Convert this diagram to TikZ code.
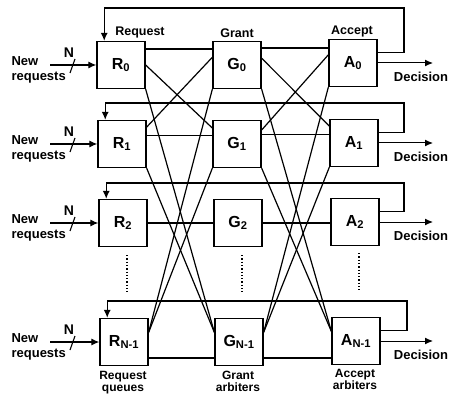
\documentclass[tikz,border=0pt]{standalone}
\usepackage{fontspec}
\setmainfont{Liberation Sans}
\usetikzlibrary{calc,arrows.meta}
\begin{document}
\begin{tikzpicture}[x=1pt,y=-1pt,line width=1.2pt,
  box/.style={draw,line width=1.3pt,minimum width=48pt,minimum height=47pt,inner sep=0pt,
    font=\bfseries\fontsize{16}{16}\selectfont},
  lbl/.style={font=\bfseries\fontsize{12.5}{14}\selectfont,inner sep=0pt},
  botlbl/.style={font=\bfseries\fontsize{12}{11.5}\selectfont,inner sep=0pt,align=center,anchor=north},
  inlbl/.style={font=\bfseries\fontsize{13}{14.5}\selectfont,inner sep=0pt,align=left,anchor=west},
  arr/.style={-{Latex[length=8pt,width=7pt]}},
  thinarr/.style={line width=1pt,-{Latex[length=8pt,width=7pt]}},
  dotline/.style={dotted,line width=1.3pt}]
\useasboundingbox (0,0) rectangle (457,395);
% boxes
\node[box] (R0) at (121,65) {R\textsubscript{0}};
\node[box] (R1) at (122,144) {R\textsubscript{1}};
\node[box] (R2) at (123,223) {R\textsubscript{2}};
\node[box] (RN) at (124,342) {R\textsubscript{N-1}};
\node[box] (G0) at (237,65) {G\textsubscript{0}};
\node[box] (G1) at (237,144) {G\textsubscript{1}};
\node[box] (G2) at (238,223) {G\textsubscript{2}};
\node[box] (GN) at (239,342) {G\textsubscript{N-1}};
\node[box] (A0) at (353,63) {A\textsubscript{0}};
\node[box] (A1) at (354,143) {A\textsubscript{1}};
\node[box] (A2) at (355,222) {A\textsubscript{2}};
\node[box] (AN) at (356,341) {A\textsubscript{N-1}};
% column labels
\node[lbl] (tR) at (140,33) {Request};
\node[lbl] (tG) at (237,33) {Grant};
\node[lbl] (tA) at (352,32) {Accept};
\node[botlbl] (bR) at (123,371) {Request\\queues};
\node[botlbl] (bG) at (238,371) {Grant\\arbiters};
\node[botlbl] (bA) at (355,369) {Accept\\arbiters};
% straight lines
\foreach \r/\f in {0/0.17,1/0.32,2/0.5,N/0.83}{
  \coordinate (rg\r) at ($(R\r.north east)!\f!(R\r.south east)$);
  \draw (rg\r) -- (rg\r -| G\r.west);
}
\foreach \r/\f in {0/0.15,1/0.3,2/0.5,N/0.83}{
  \coordinate (ga\r) at ($(G\r.north east)!\f!(G\r.south east)$);
  \draw (ga\r) -- (ga\r -| A\r.west);
}
% crossing lines R-G
\coordinate (gnw) at ($(GN.north west)!0.3!(GN.south west)$);
\coordinate (rne) at ($(RN.north east)!0.3!(RN.south east)$);
\draw (R0.east) -- ($(G1.north west)!0.17!(G1.south west)$);
\draw ($(G0.north west)!0.34!(G0.south west)$) -- ($(R1.north east)!0.15!(R1.south east)$);
\draw (R0.south east) -- (gnw);
\draw (R1.south east) -- (gnw);
\draw (G0.south west) -- (rne);
\draw (G1.south west) -- (rne);
% crossing lines G-A
\coordinate (anw) at ($(AN.north west)!0.3!(AN.south west)$);
\coordinate (gne) at ($(GN.north east)!0.3!(GN.south east)$);
\draw ($(G0.north east)!0.36!(G0.south east)$) -- ($(A1.north west)!0.15!(A1.south west)$);
\draw ($(A0.north west)!0.33!(A0.south west)$) -- ($(G1.north east)!0.21!(G1.south east)$);
\draw (G0.south east) -- (anw);
\draw (G1.south east) -- (anw);
\draw (A0.south west) -- (gne);
\draw (A1.south west) -- (gne);
% feedback loops
\coordinate (c0) at (404,8);
\coordinate (c1) at (404,103);
\coordinate (c2) at (404,183);
\coordinate (cN) at (407,301);
\foreach \r in {0,1,2,N}{
  \coordinate (fb\r) at ($(A\r.north east)!0.28!(A\r.south east)$);
  \draw[arr] (fb\r) -| (c\r) -| ($(R\r.north west)!0.16!(R\r.north east)$);
}
% decisions
\coordinate (dx) at (433,0);
\foreach \r in {0,1,2,N}{
  \draw[thinarr] (A\r.east) -- (A\r.east -| dx);
  \node[lbl,font=\bfseries\fontsize{13}{14}\selectfont] (dec\r) at ($(A\r.east -| dx)+(-12,14)$) {Decision};
}
% inputs
\coordinate (ix) at (50,0);
\foreach \r in {0,1,2,N}{
  \draw[arr] (R\r.west -| ix) -- (R\r.west);
  \node[inlbl] (nr\r) at ($(R\r.west -| ix)+(-39,5)$) {New\\requests};
  \node[lbl,font=\bfseries\fontsize{14}{14}\selectfont] (nn\r) at ($(R\r.west -| ix)+(19,-12)$) {N};
  \draw[line width=1.1pt] ($(R\r.west -| ix)+(25,-6)$) -- ($(R\r.west -| ix)+(20,8)$);
}
% dotted continuation
\draw[dotline] (127,255) -- (127,292);
\draw[dotline] (242,255) -- (242,292);
\draw[dotline] (359,253) -- (359,290);
\end{tikzpicture}
\end{document}
